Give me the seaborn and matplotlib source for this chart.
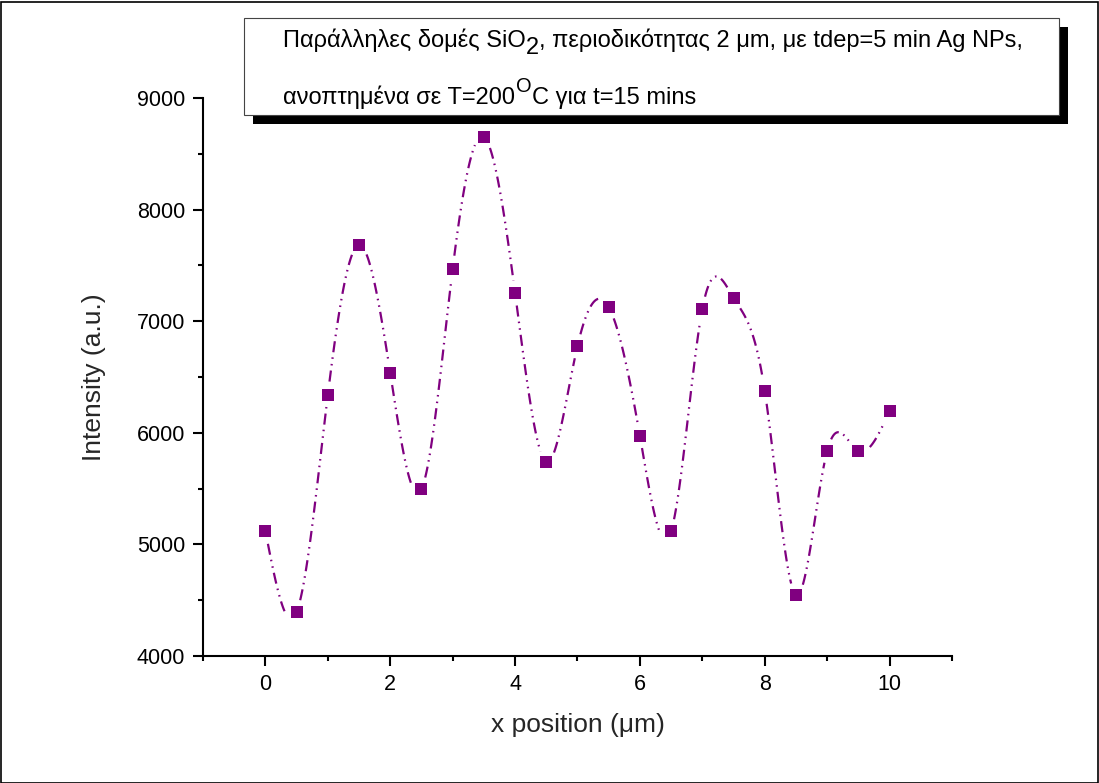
import numpy as np
import pandas as pd
import seaborn as sns
import matplotlib
matplotlib.use("Agg")
import matplotlib.pyplot as plt
from matplotlib.patches import Rectangle
from matplotlib.text import Annotation
from matplotlib.ticker import MultipleLocator

# Measured intensity profile across the SiO2 grating
x_pos = [0, 0.5, 1, 1.5, 2, 2.5, 3, 3.5, 4, 4.5, 5, 5.5, 6, 6.5, 7, 7.5, 8, 8.5, 9, 9.5, 10]
intensity = [5120, 4394, 6339, 7683, 6536, 5496, 7468, 8651, 7253, 5738, 6778,
             7127, 5971, 5120, 7109, 7208, 6375, 4547, 5837, 5837, 6195]

x_ticks = [0, 2, 4, 6, 8, 10]
y_ticks = [4000, 5000, 6000, 7000, 8000, 9000]

PURPLE = "#800080"

sns.set_theme(style="ticks")
plt.rcParams["font.family"] = ["Liberation Sans", "DejaVu Sans"]


def natural_cubic_spline(x, y, xs):
    x = np.asarray(x, float)
    y = np.asarray(y, float)
    n = len(x)
    h = np.diff(x)
    A = np.zeros((n, n))
    b = np.zeros(n)
    A[0, 0] = 1.0
    A[-1, -1] = 1.0
    for i in range(1, n - 1):
        A[i, i - 1] = h[i - 1]
        A[i, i] = 2 * (h[i - 1] + h[i])
        A[i, i + 1] = h[i]
        b[i] = 6 * ((y[i + 1] - y[i]) / h[i] - (y[i] - y[i - 1]) / h[i - 1])
    M = np.linalg.solve(A, b)
    idx = np.clip(np.searchsorted(x, xs) - 1, 0, n - 2)
    x0, x1 = x[idx], x[idx + 1]
    hh = x1 - x0
    t0 = x1 - xs
    t1 = xs - x0
    return (M[idx] * t0 ** 3 / (6 * hh) + M[idx + 1] * t1 ** 3 / (6 * hh)
            + (y[idx] / hh - M[idx] * hh / 6) * t0
            + (y[idx + 1] / hh - M[idx + 1] * hh / 6) * t1)


W, H = 1099, 783
fig = plt.figure(figsize=(W / 100, H / 100), dpi=100)
ax = fig.add_axes([203 / W, 1 - 656 / H, (952 - 203) / W, (656 - 98) / H])

ax.set_xlim(-1, 11)
ax.set_ylim(4000, 9000)
ax.set_xticks(x_ticks)
ax.set_yticks(y_ticks)
ax.xaxis.set_minor_locator(MultipleLocator(1))
ax.yaxis.set_minor_locator(MultipleLocator(500))

# Smooth curve through the points, broken around each marker
xs = np.linspace(min(x_pos), max(x_pos), 3001)
ys = natural_cubic_spline(x_pos, intensity, xs)
curve_px = ax.transData.transform(np.column_stack([xs, ys]))
mark_px = ax.transData.transform(np.column_stack([x_pos, intensity]))
dist = np.min(np.hypot(curve_px[:, None, 0] - mark_px[None, :, 0],
                       curve_px[:, None, 1] - mark_px[None, :, 1]), axis=1)
keep = dist > 12
seg = np.cumsum(~keep)
curve = pd.DataFrame({"x": xs[keep], "y": ys[keep], "seg": seg[keep]})

sns.lineplot(data=curve, x="x", y="y", units="seg", estimator=None, sort=False,
             color=PURPLE, linewidth=1.6,
             linestyle=(0, (5, 2.3, 0.7, 2.3, 0.7, 2.3)), ax=ax)
sns.scatterplot(x=x_pos, y=intensity, marker="s", s=64, color=PURPLE,
                edgecolor=PURPLE, linewidth=0, ax=ax, zorder=3)

for side in ("top", "right"):
    ax.spines[side].set_visible(False)
for side in ("left", "bottom"):
    ax.spines[side].set_linewidth(1.5)
    ax.spines[side].set_color("black")

ax.tick_params(which="major", direction="out", length=7, width=1.5,
               labelsize=15.5, colors="black", pad=6)
ax.tick_params(which="minor", direction="out", length=3.5, width=1.5, colors="black")
ax.set_xlabel("x position (μm)", fontsize=19, labelpad=13)
ax.set_ylabel("Intensity (a.u.)", fontsize=19, labelpad=22)

# Outer frame
fig.add_artist(Rectangle((0.5 / W, 0.5 / H), 1 - 2 / W, 1 - 2 / H,
                         transform=fig.transFigure, fill=False,
                         edgecolor="black", linewidth=1.2, zorder=0))

# Annotation box with drop shadow
bx0, bx1, by0, by1 = 244, 1059, 18, 115
sh = 9
fig.add_artist(Rectangle(((bx0 + sh) / W, 1 - (by1 + sh) / H), (bx1 - bx0) / W,
                         (by1 - by0) / H, transform=fig.transFigure,
                         facecolor="black", edgecolor="black", linewidth=0, zorder=10))
fig.add_artist(Rectangle((bx0 / W, 1 - by1 / H), (bx1 - bx0) / W, (by1 - by0) / H,
                         transform=fig.transFigure, facecolor="white",
                         edgecolor="#444444", linewidth=0.8, zorder=11))

fs = 17
kw = dict(fontsize=fs, color="black", zorder=12)


def piece(text, after, line_ref, dx=0, dy=0, **extra):
    style = dict(kw)
    style.update(extra)
    ann = Annotation(text, xy=(1, 0), xycoords=(after, line_ref), xytext=(dx, dy),
                     textcoords="offset points", va="bottom", ha="left",
                     annotation_clip=False, **style)
    fig.add_artist(ann)
    return ann


t1 = fig.text(283 / W, 1 - 47 / H, "Παράλληλες δομές SiO", va="baseline", ha="left", **kw)
s1 = piece("2", t1, t1, dy=-5)
piece(", περιοδικότητας 2 μm, με tdep=5 min Ag NPs,", s1, t1)

t2 = fig.text(283 / W, 1 - 104 / H, "ανοπτημένα σε T=200", va="baseline", ha="left", **kw)
s2 = piece("O", t2, t2, dx=1, dy=9, fontsize=fs * 0.85)
piece("C για t=15 mins", s2, t2)

fig.savefig("out.png", dpi=100)
